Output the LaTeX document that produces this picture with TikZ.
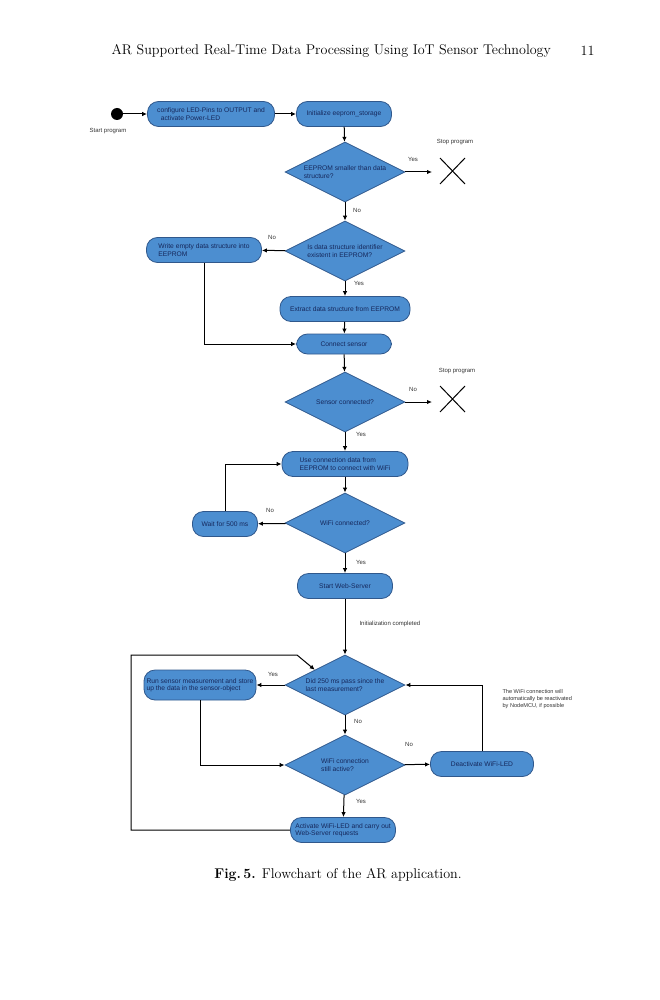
\documentclass[tikz,border=0pt]{standalone}
\usepackage{fontspec}
\newfontfamily\chartfont{Liberation Sans}
\usetikzlibrary{shapes.geometric,arrows.meta,positioning}
\definecolor{boxfill}{RGB}{76,142,208}
\definecolor{boxline}{RGB}{48,88,140}
\definecolor{boxtext}{RGB}{22,40,92}
\tikzset{
  action/.style={draw=boxline, fill=boxfill, line width=0.8pt, rounded corners=11pt,
    minimum height=25pt, inner sep=2pt, text=boxtext, align=left,
    font=\chartfont\fontsize{6.7}{7.4}\selectfont},
  decision/.style={diamond, aspect=2, draw=boxline, fill=boxfill, line width=0.8pt,
    minimum width=120pt, minimum height=60pt, inner sep=0pt,
    align=left, text=boxtext, font=\chartfont\fontsize{6.7}{7.4}\selectfont},
  flow/.style={-{Latex[length=5pt,width=4.5pt]}, line width=1pt},
  label/.style={font=\chartfont\fontsize{6}{7}\selectfont, text=black!80},
  stopcross/.style={line width=1pt},
}
\begin{document}
\begin{tikzpicture}[x=1pt,y=-1pt]
\useasboundingbox (0,0) rectangle (659,1000);

% Running head
\node[anchor=west, font=\fontsize{14.1}{16}\selectfont] (head) at (108,51) {AR Supported Real-Time Data Processing Using IoT Sensor Technology};
\node[anchor=east, font=\fontsize{14.1}{16}\selectfont] (page) at (598,51) {11};

%Start
\node[circle, fill=black, minimum size=12pt, inner sep=0pt] (start) at (117,114) {};
\node[label] (startlbl) at (108,131) {Start program};

%Actions and decisions
\node[action, minimum width=127pt] (configure) at (211,114) {configure LED-Pins to OUTPUT and\\\ \ activate Power-LED};
\node[action, minimum width=95pt] (init) at (344,114) {Initialize eeprom\_storage};
\node[decision] (smaller) at (345,172) {EEPROM smaller than data\\structure?};
\node[decision] (exists) at (345,251) {Is data structure identifier\\existent in EEPROM?};
\node[action, minimum width=115pt] (write) at (204,250) {Write empty data structure into\\EEPROM};
\node[action, minimum width=130pt] (extract) at (345,309) {Extract data structure from EEPROM};
\node[action, minimum width=95pt, minimum height=20pt] (connect) at (344,344) {Connect sensor};
\node[decision] (sensor) at (345,402) {Sensor connected?};
\node[action, minimum width=126pt] (usedata) at (345,464) {Use connection data from\\EEPROM to connect with WiFi};
\node[decision] (wifi) at (345,523) {WiFi connected?};
\node[action, minimum width=65pt] (wait) at (225,524) {Wait for 500 ms};
\node[action, minimum width=95pt] (webserver) at (345,586) {Start Web-Server};
\node[decision] (passed) at (345,685) {Did 250 ms pass since the\\last measurement?};
\node[action, minimum width=112pt, minimum height=30pt] (measure) at (200,685) {Run sensor measurement and store\\up the data in the sensor-object};
\node[decision] (active) at (345,765) {WiFi connection\\still active?};
\node[action, minimum width=103pt] (deactivate) at (482,764) {Deactivate WiFi-LED};
\node[action, minimum width=105pt] (serve) at (343,830) {Activate WiFi-LED and carry out\\Web-Server requests};

%Stop markers
\coordinate (stopA) at (432,172);
\coordinate (stopB) at (432,402);
\draw[stopcross] (440,158) -- (465,184) (440,184) -- (465,158);
\draw[stopcross] (440,386) -- (465,412) (440,412) -- (465,386);
\node[label] (stoplblA) at (455,142) {Stop program};
\node[label] (stoplblB) at (457,371) {Stop program};

%Loop corners
\coordinate (loopA) at (131,655);
\coordinate (loopB) at (297,655);

%Connectors
\draw[flow] (start) -- (configure);
\draw[flow] (configure) -- (init);
\draw[flow] (init) -- (smaller);
\draw[flow] (smaller.east) -- (stopA);
\draw[flow] (smaller) -- (exists);
\draw[flow] (exists) -- (write);
\draw[flow] (exists) -- (extract);
\draw[flow] (extract) -- (connect);
\draw[flow] (write.south) |- (connect.west);
\draw[flow] (connect) -- (sensor);
\draw[flow] (sensor.east) -- (stopB);
\draw[flow] (sensor) -- (usedata);
\draw[flow] (usedata) -- (wifi);
\draw[flow] (wifi) -- (wait);
\draw[flow] (wait.north) |- (usedata.west);
\draw[flow] (wifi) -- (webserver);
\draw[flow] (webserver) -- (passed);
\draw[flow] (passed) -- (measure);
\draw[flow] (passed) -- (active);
\draw[flow] (measure.south) |- (active.west);
\draw[flow] (active) -- (deactivate);
\draw[flow] (deactivate.north) |- (passed.east);
\draw[flow] (active) -- (serve);
\draw[flow] (serve.west) -| (loopA) -- (loopB) -- (passed.north west);

% Text Node
\node[label] (yesA) at (413,159) {Yes};
\node[label] (noA) at (357,210) {No};
\node[label] (noB) at (272,237) {No};
\node[label] (yesB) at (359,283) {Yes};
\node[label] (noC) at (413,389) {No};
\node[label] (yesC) at (361,434) {Yes};
\node[label] (noD) at (270,510) {No};
\node[label] (yesD) at (361,562) {Yes};
\node[label, anchor=west] (initdone) at (356,624) {Initialization completed};
\node[label] (yesE) at (273,674) {Yes};
\node[label] (noE) at (358,721) {No};
\node[label] (noF) at (409,744) {No};
\node[label] (yesF) at (361,801) {Yes};
\node[label, anchor=west, align=left, font=\chartfont\fontsize{5.6}{7}\selectfont] (note) at (499,699) {The WiFi connection will\\automatically be reactivated\\by NodeMCU, if possible};

% Caption
\node[font=\fontsize{14.1}{16}\selectfont] (caption) at (338,875) {\textbf{Fig.\,5.} Flowchart of the AR application.};
\end{tikzpicture}
\end{document}
